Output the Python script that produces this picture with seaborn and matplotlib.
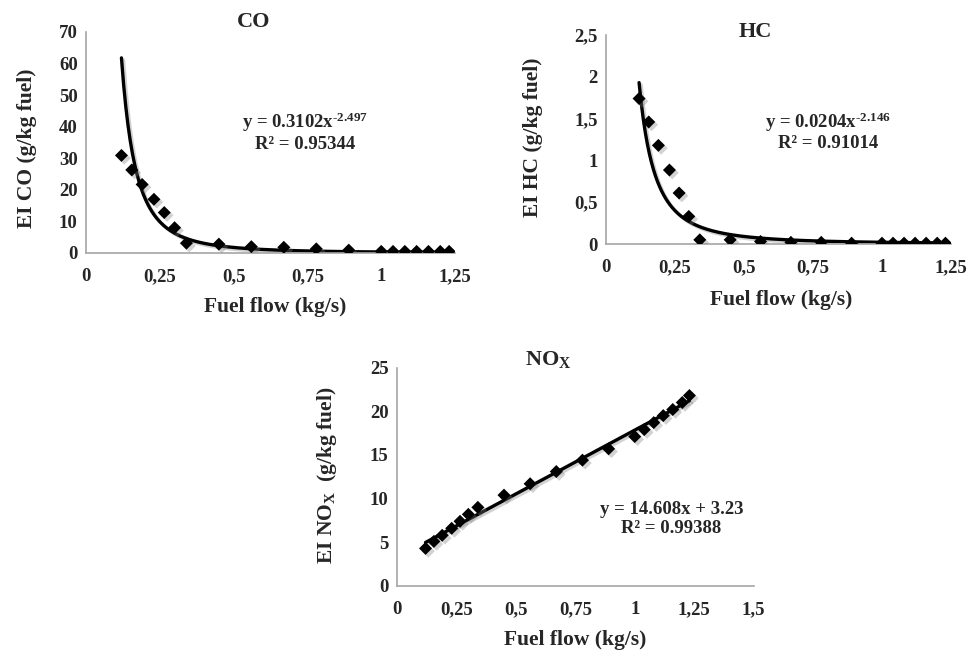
import matplotlib
matplotlib.use('Agg')
import matplotlib.pyplot as plt
import matplotlib.patheffects as pe
from matplotlib.ticker import FuncFormatter
import numpy as np
import pandas as pd
import seaborn as sns

# Data
fuel_flow = [0.12, 0.155, 0.19, 0.23, 0.265, 0.30, 0.34, 0.45, 0.56, 0.67, 0.78,
             0.89, 1.0, 1.04, 1.08, 1.12, 1.16, 1.20, 1.23]
ei_co = [30.9, 26.3, 21.7, 17.0, 12.8, 8.0, 3.1, 2.8, 2.0, 1.8, 1.3,
         0.9, 0.5, 0.5, 0.5, 0.5, 0.5, 0.5, 0.5]
ei_hc = [1.74, 1.46, 1.18, 0.885, 0.61, 0.33, 0.05, 0.05, 0.03, 0.02, 0.02,
         0.01, 0.01, 0.01, 0.01, 0.01, 0.01, 0.01, 0.01]
ei_nox = [4.3, 5.1, 5.8, 6.6, 7.4, 8.2, 9.0, 10.4, 11.7, 13.1, 14.4,
          15.7, 17.1, 17.9, 18.7, 19.5, 20.2, 21.0, 21.8]

# Trendline coefficients as printed on the chart
co_fit = (0.3102, -2.497)
hc_fit = (0.0204, -2.146)
nox_fit = (14.608, 3.23)

df = pd.DataFrame({'fuel': fuel_flow, 'co': ei_co, 'hc': ei_hc, 'nox': ei_nox})

sns.set_style('white')
plt.rcParams['font.family'] = ['Liberation Serif', 'DejaVu Serif']
plt.rcParams['font.weight'] = 'bold'
plt.rcParams['mathtext.fontset'] = 'custom'
plt.rcParams['mathtext.rm'] = 'Liberation Serif:bold'
plt.rcParams['mathtext.it'] = 'Liberation Serif:bold'
plt.rcParams['mathtext.bf'] = 'Liberation Serif:bold'

fig = plt.figure(figsize=(9.7, 6.5), dpi=100)
ax_co = fig.add_axes([0.0887, 0.6108, 0.3804, 0.34])
ax_hc = fig.add_axes([0.6247, 0.6246, 0.3557, 0.3215])
ax_nox = fig.add_axes([0.4093, 0.0985, 0.3676, 0.336])

comma = FuncFormatter(lambda v, p: f'{v:g}'.replace('.', ','))
shadow = [pe.SimpleLineShadow(offset=(1.5, -1.5), shadow_color='gray', alpha=0.35), pe.Normal()]
gray = '#a6a6a6'


def style_axis(ax, xmax, xstep, ymax, ystep):
    ax.set_xlim(0, xmax)
    ax.set_ylim(0, ymax)
    ax.set_xticks(np.arange(0, xmax + 1e-9, xstep))
    ax.set_yticks(np.arange(0, ymax + 1e-9, ystep))
    ax.xaxis.set_major_formatter(comma)
    ax.yaxis.set_major_formatter(comma)
    sns.despine(ax=ax)
    for s in ['left', 'bottom']:
        ax.spines[s].set_color(gray)
        ax.spines[s].set_linewidth(1.2)
    ax.tick_params(axis='both', direction='out', length=4, width=1, color=gray,
                   labelsize=13.5)
    ax.tick_params(axis='x', pad=7)
    ax.tick_params(axis='y', pad=2)
    ax.grid(False)


def draw_points(ax, col):
    sns.scatterplot(data=df, x='fuel', y=col, ax=ax, marker='D', s=44,
                    color='black', edgecolor='black', linewidth=0, legend=False,
                    path_effects=[pe.SimplePatchShadow(offset=(2, -2), shadow_rgbFace='gray', alpha=0.35), pe.Normal()],
                    zorder=3)


def labels(ax, title, title_xy, xlab_xy, ylabel, ylab_xy, eq, r2, eq_xy):
    ax.text(*title_xy, title, transform=ax.transAxes, ha='center', va='center',
            fontsize=16, fontweight='bold')
    ax.set_xlabel('Fuel flow (kg/s)', fontsize=15.5, fontweight='bold')
    ax.xaxis.set_label_coords(*xlab_xy)
    ax.xaxis.label.set_va('center')
    ax.set_ylabel(ylabel, fontsize=15.5, fontweight='bold')
    ax.yaxis.set_label_coords(*ylab_xy)
    ax.yaxis.label.set_va('center')
    ax.text(eq_xy[0], eq_xy[1], eq, transform=ax.transAxes, ha='center',
            va='center', fontsize=13.5, fontweight='bold')
    ax.text(eq_xy[0], eq_xy[2], r2, transform=ax.transAxes, ha='center',
            va='center', fontsize=13.5, fontweight='bold')


x_fit = np.linspace(min(fuel_flow), max(fuel_flow), 300)

# CO
draw_points(ax_co, 'co')
sns.lineplot(x=x_fit, y=co_fit[0] * x_fit ** co_fit[1], ax=ax_co, color='black',
             linewidth=2.4, path_effects=shadow)
style_axis(ax_co, 1.25, 0.25, 70, 10)
labels(ax_co, 'CO', (0.453, 1.045), (0.512, -0.244), 'EI CO (g/kg fuel)', (-0.160, 0.475),
       r'y = 0.3102x$^{\text{-2.497}}$', 'R² = 0.95344', (0.593, 0.593, 0.489))

# HC
draw_points(ax_hc, 'hc')
sns.lineplot(x=x_fit, y=hc_fit[0] * x_fit ** hc_fit[1], ax=ax_hc, color='black',
             linewidth=2.4, path_effects=shadow)
style_axis(ax_hc, 1.25, 0.25, 2.5, 0.5)
labels(ax_hc, 'HC', (0.432, 1.014), (0.507, -0.268), 'EI HC (g/kg fuel)', (-0.212, 0.512),
       r'y = 0.0204x$^{\text{-2.146}}$', 'R² = 0.91014', (0.643, 0.584, 0.483))

# NOx
draw_points(ax_nox, 'nox')
sns.lineplot(x=x_fit, y=nox_fit[0] * x_fit + nox_fit[1], ax=ax_nox, color='black',
             linewidth=2.4, path_effects=shadow)
style_axis(ax_nox, 1.5, 0.25, 25, 5)
labels(ax_nox, r'NO$_{\mathrm{X}}$', (0.423, 1.035), (0.499, -0.247),
       r'EI NO$_{\mathrm{X}}$  (g/kg fuel)', (-0.196, 0.508),
       'y = 14.608x + 3.23', 'R² = 0.99388', (0.770, 0.348, 0.264))

fig.savefig('out.png', dpi=100)
